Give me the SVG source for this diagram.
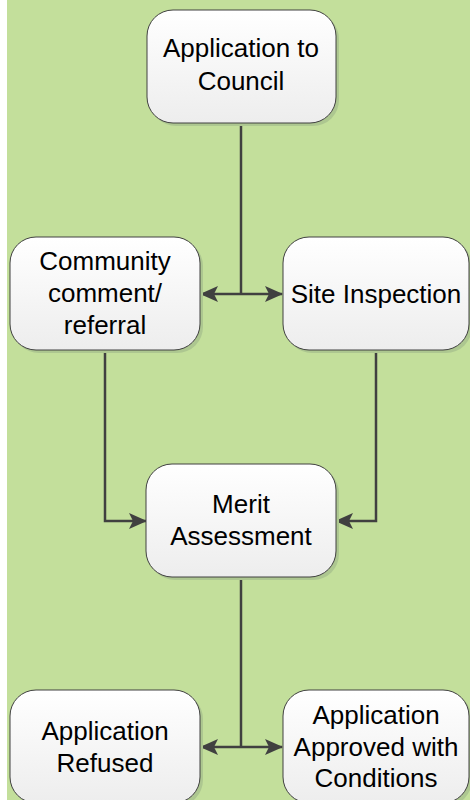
<svg xmlns="http://www.w3.org/2000/svg" width="470" height="802" viewBox="0 0 470 802">
<defs>
<linearGradient id="g" x1="0" y1="0" x2="0" y2="1">
<stop offset="0" stop-color="#ffffff"/>
<stop offset="1" stop-color="#ededed"/>
</linearGradient>
<marker id="ah" viewBox="0 0 18 16" refX="17" refY="8" markerWidth="18" markerHeight="16" markerUnits="userSpaceOnUse" orient="auto">
<path d="M0,0 L18,8 L0,16 L4,8 Z" fill="#404040"/>
</marker>
</defs>
<style>
.shadow{fill:#adc790}
.box{fill:url(#g);stroke:#404040;stroke-width:1}
.t{font-family:"Liberation Sans",Arial,sans-serif;font-size:26px;fill:#000;text-anchor:middle}
.c{fill:none;stroke:#404040;stroke-width:2.5}
</style>
<rect x="0" y="0" width="470" height="802" fill="#ffffff"/>
<rect x="7" y="0" width="463" height="800" fill="#c3df9b"/>
<g id="connectors">
<path class="c" d="M241,123 V294"/>
<path class="c" d="M241,294 H201" marker-end="url(#ah)"/>
<path class="c" d="M241,294 H282" marker-end="url(#ah)"/>
<path class="c" d="M105,350 V521 H146" marker-end="url(#ah)"/>
<path class="c" d="M376,350 V521 H336" marker-end="url(#ah)"/>
<path class="c" d="M241,577 V747"/>
<path class="c" d="M241,747 H201" marker-end="url(#ah)"/>
<path class="c" d="M241,747 H282" marker-end="url(#ah)"/>
</g>
<g id="n1">
<rect class="shadow" x="150" y="13" width="189" height="113" rx="26"/>
<rect class="box" x="147" y="10" width="189" height="113" rx="26"/>
<text class="t" x="241" y="57">Application to</text>
<text class="t" x="241" y="90">Council</text>
</g>
<g id="n2">
<rect class="shadow" x="13" y="240" width="190" height="113" rx="26"/>
<rect class="box" x="10" y="237" width="190" height="113" rx="26"/>
<text class="t" x="105" y="270">Community</text>
<text class="t" x="105" y="302">comment/</text>
<text class="t" x="105" y="334">referral</text>
</g>
<g id="n3">
<rect class="shadow" x="286" y="240" width="186" height="113" rx="26"/>
<rect class="box" x="283" y="237" width="186" height="113" rx="26"/>
<text class="t" x="376" y="303">Site Inspection</text>
</g>
<g id="n4">
<rect class="shadow" x="149" y="467" width="190" height="113" rx="26"/>
<rect class="box" x="146" y="464" width="190" height="113" rx="26"/>
<text class="t" x="241" y="513">Merit</text>
<text class="t" x="241" y="545">Assessment</text>
</g>
<g id="n5">
<rect class="shadow" x="13" y="693" width="190" height="113" rx="26"/>
<rect class="box" x="10" y="690" width="190" height="113" rx="26"/>
<text class="t" x="105" y="740">Application</text>
<text class="t" x="105" y="772">Refused</text>
</g>
<g id="n6">
<rect class="shadow" x="286" y="693" width="186" height="113" rx="26"/>
<rect class="box" x="283" y="690" width="186" height="113" rx="26"/>
<text class="t" x="376" y="724">Application</text>
<text class="t" x="376" y="756">Approved with</text>
<text class="t" x="376" y="787">Conditions</text>
</g>
<rect x="0" y="800" width="470" height="2" fill="#ffffff"/>
</svg>
